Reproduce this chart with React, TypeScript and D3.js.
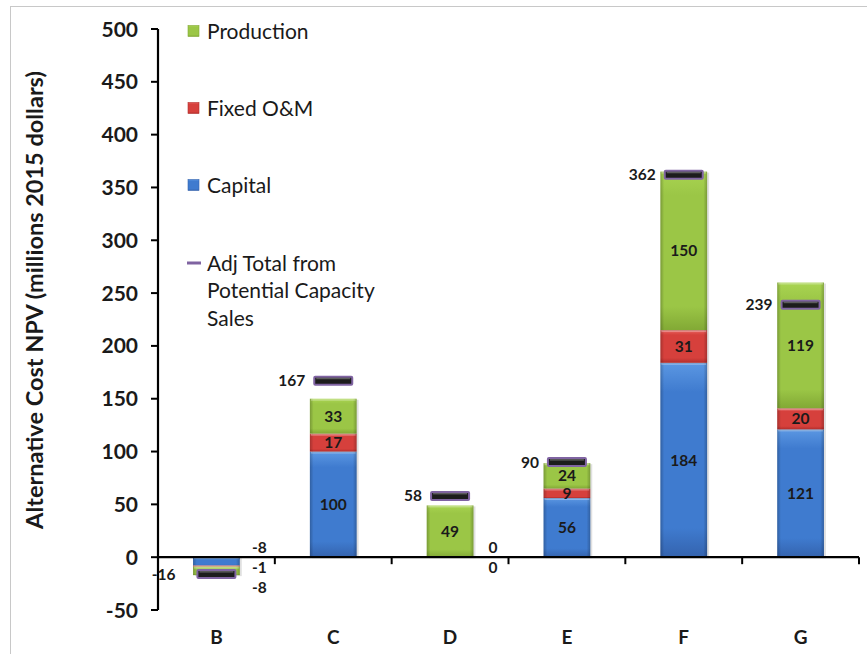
import React, { useEffect, useRef } from 'react';
import * as d3 from 'd3';

const categories = ['B', 'C', 'D', 'E', 'F', 'G'];
const capital = [-8, 100, 0, 56, 184, 121];
const fixedOM = [-1, 17, 0, 9, 31, 20];
const production = [-8, 33, 49, 24, 150, 119];
const adjTotal = [-16, 167, 58, 90, 362, 239];
const yTicks = [-50, 0, 50, 100, 150, 200, 250, 300, 350, 400, 450, 500];

const seriesKeys = ['capital', 'fixedOM', 'production'];
const seriesNames: Record<string, string> = { capital: 'Capital', fixedOM: 'Fixed O&M', production: 'Production' };
const colors: Record<string, [string, string, string]> = {
  capital: ['#5b97e2', '#3f7bcf', '#3463ae'],
  fixedOM: ['#e8605c', '#d6403c', '#b32e2c'],
  production: ['#a9d451', '#9bc646', '#82a935'],
};

const W = 867;
const H = 654;
const FONT = 'Lato, "Open Sans", sans-serif';

const App: React.FC = () => {
  const ref = useRef<SVGSVGElement>(null);

  useEffect(() => {
    if (!ref.current) return;
    const svg = d3.select(ref.current);
    svg.selectAll('*').remove();

    const rows = categories.map((c, i) => ({
      cat: c, capital: capital[i], fixedOM: fixedOM[i], production: production[i], total: adjTotal[i],
    }));

    const x = d3.scaleBand().domain(categories).range([158, 859]).paddingInner(0.6).paddingOuter(0.3);
    const y = d3.scaleLinear().domain([-50, 500]).range([610, 29]);
    const step = x.step();

    const defs = svg.append('defs');
    seriesKeys.forEach(k => {
      const g = defs.append('linearGradient').attr('id', `grad-${k}`).attr('x1', 0).attr('y1', 0).attr('x2', 0).attr('y2', 1);
      g.append('stop').attr('offset', '0%').attr('stop-color', colors[k][0]);
      g.append('stop').attr('offset', '15%').attr('stop-color', colors[k][1]);
      g.append('stop').attr('offset', '85%').attr('stop-color', colors[k][1]);
      g.append('stop').attr('offset', '100%').attr('stop-color', colors[k][2]);
    });
    const edge = defs.append('linearGradient').attr('id', 'edge').attr('x1', 0).attr('y1', 0).attr('x2', 1).attr('y2', 0);
    edge.append('stop').attr('offset', '0%').attr('stop-color', '#000').attr('stop-opacity', 0.22);
    edge.append('stop').attr('offset', '8%').attr('stop-color', '#000').attr('stop-opacity', 0);
    edge.append('stop').attr('offset', '92%').attr('stop-color', '#000').attr('stop-opacity', 0);
    edge.append('stop').attr('offset', '100%').attr('stop-color', '#000').attr('stop-opacity', 0.22);

    // outer frame
    svg.append('rect').attr('x', 10.5).attr('y', 6.5).attr('width', 860).attr('height', 652)
      .attr('fill', 'white').attr('stroke', '#c8c8c8');

    const stack = d3.stack<any>().keys(seriesKeys).offset(d3.stackOffsetDiverging);
    const layers = stack(rows);

    // bars
    layers.forEach(layer => {
      const k = layer.key;
      layer.forEach((seg, i) => {
        const top = y(Math.max(seg[0], seg[1]));
        const bot = y(Math.min(seg[0], seg[1]));
        const h = bot - top;
        if (h <= 0) return;
        const bx = x(categories[i]) as number;
        const bw = x.bandwidth();
        const g = svg.append('g');
        g.append('rect').attr('x', bx + 2).attr('y', top + 1).attr('width', bw).attr('height', h)
          .attr('fill', '#000').attr('opacity', 0.12);
        g.append('rect').attr('x', bx).attr('y', top).attr('width', bw).attr('height', h)
          .attr('fill', `url(#grad-${k})`);
        g.append('rect').attr('x', bx).attr('y', top).attr('width', bw).attr('height', h)
          .attr('fill', 'url(#edge)');
        g.append('rect').attr('x', bx + 1).attr('y', top).attr('width', bw - 2).attr('height', Math.min(2, h))
          .attr('fill', '#fff').attr('opacity', 0.3);
      });
    });

    // axes
    const axisColor = '#000';
    svg.append('line').attr('x1', 158).attr('x2', 158).attr('y1', y(500)).attr('y2', y(-50))
      .attr('stroke', axisColor).attr('stroke-width', 2.2);
    yTicks.forEach(t => {
      svg.append('line').attr('x1', 151).attr('x2', 158).attr('y1', y(t)).attr('y2', y(t))
        .attr('stroke', axisColor).attr('stroke-width', 2);
      svg.append('text').attr('x', 138).attr('y', y(t)).attr('dy', '0.36em').attr('text-anchor', 'end')
        .attr('font-family', FONT).attr('font-weight', 'bold').attr('font-size', 21).attr('fill', '#1a1a1a')
        .text(t);
    });

    // segment labels
    layers.forEach(layer => {
      layer.forEach((seg, i) => {
        const v = (rows[i] as any)[layer.key] as number;
        const h = Math.abs(y(seg[0]) - y(seg[1]));
        if (h >= 9) {
          svg.append('text').attr('x', (x(categories[i]) as number) + x.bandwidth() / 2)
            .attr('y', (y(seg[0]) + y(seg[1])) / 2).attr('dy', '0.36em').attr('text-anchor', 'middle')
            .attr('font-family', FONT).attr('font-weight', 'bold').attr('font-size', 15.5).attr('fill', '#1a1a1a')
            .text(v);
        }
      });
    });
    // labels beside bars whose segments are too thin
    categories.forEach((c, i) => {
      let k = 0;
      layers.forEach(layer => {
        const seg = layer[i];
        const h = Math.abs(y(seg[0]) - y(seg[1]));
        if (h < 9) {
          const v = (rows[i] as any)[layer.key] as number;
          svg.append('text').attr('x', (x(c) as number) + x.bandwidth() / 2 + 43)
            .attr('y', y(0) - 10 + k * 20).attr('dy', '0.36em').attr('text-anchor', 'middle')
            .attr('font-family', FONT).attr('font-weight', 'bold').attr('font-size', 15.5).attr('fill', '#1a1a1a')
            .text(v);
          k++;
        }
      });
    });

    // x axis
    svg.append('line').attr('x1', 158).attr('x2', 859).attr('y1', y(0)).attr('y2', y(0))
      .attr('stroke', axisColor).attr('stroke-width', 2.2);
    d3.range(categories.length + 1).forEach(i => {
      const tx = 158 + i * step;
      svg.append('line').attr('x1', tx).attr('x2', tx).attr('y1', y(0)).attr('y2', y(0) + 7)
        .attr('stroke', axisColor).attr('stroke-width', 2);
    });
    categories.forEach(c => {
      svg.append('text').attr('x', (x(c) as number) + x.bandwidth() / 2).attr('y', 637).attr('dy', '0.36em')
        .attr('text-anchor', 'middle').attr('font-family', FONT).attr('font-weight', 'bold')
        .attr('font-size', 19).attr('fill', '#1a1a1a').text(c);
    });

    // adj total markers
    const mw = 38;
    rows.forEach(r => {
      const cx = (x(r.cat) as number) + x.bandwidth() / 2;
      const my = y(r.total);
      svg.append('rect').attr('x', cx - mw / 2).attr('y', my - 4).attr('width', mw).attr('height', 8)
        .attr('fill', '#1c1c1c').attr('stroke', '#8064a2').attr('stroke-width', 2).attr('rx', 1);
      svg.append('rect').attr('x', cx - mw / 2 + 2).attr('y', my - 3).attr('width', mw - 4).attr('height', 1.5)
        .attr('fill', '#777').attr('opacity', 0.7);
      svg.append('text').attr('x', cx - mw / 2 - (r.total < 0 ? 22 : 9)).attr('y', my).attr('dy', '0.36em')
        .attr('text-anchor', 'end').attr('font-family', FONT).attr('font-weight', 'bold')
        .attr('font-size', 15.5).attr('fill', '#1a1a1a').text(r.total);
    });

    // y title
    svg.append('text').attr('transform', `translate(43,300) rotate(-90)`)
      .attr('text-anchor', 'middle').attr('font-family', FONT).attr('font-weight', 'bold')
      .attr('font-size', 23.5).attr('fill', '#1a1a1a')
      .text('Alternative Cost NPV (millions 2015 dollars)');

    // legend
    const legendItems = ['production', 'fixedOM', 'capital'];
    const legendY = [31, 108, 185];
    legendItems.forEach((k, i) => {
      const ly = legendY[i];
      svg.append('rect').attr('x', 188).attr('y', ly - 5.5).attr('width', 11).attr('height', 11)
        .attr('fill', `url(#grad-${k})`).attr('stroke', colors[k][2]).attr('stroke-width', 0.6);
      svg.append('text').attr('x', 207).attr('y', ly).attr('dy', '0.36em')
        .attr('font-family', FONT).attr('font-size', 21).attr('fill', '#1a1a1a').text(seriesNames[k]);
    });
    svg.append('line').attr('x1', 187).attr('x2', 201).attr('y1', 263).attr('y2', 263)
      .attr('stroke', '#7f63a1').attr('stroke-width', 3);
    ['Adj Total from', 'Potential Capacity', 'Sales'].forEach((t, i) => {
      svg.append('text').attr('x', 207).attr('y', 263 + i * 27.5).attr('dy', '0.36em')
        .attr('font-family', FONT).attr('font-size', 21).attr('fill', '#1a1a1a').text(t);
    });
  }, []);

  return <svg ref={ref} width={W} height={H} style={{ position: 'absolute', left: 0, top: 0, display: 'block' }} />;
};

export default App;
